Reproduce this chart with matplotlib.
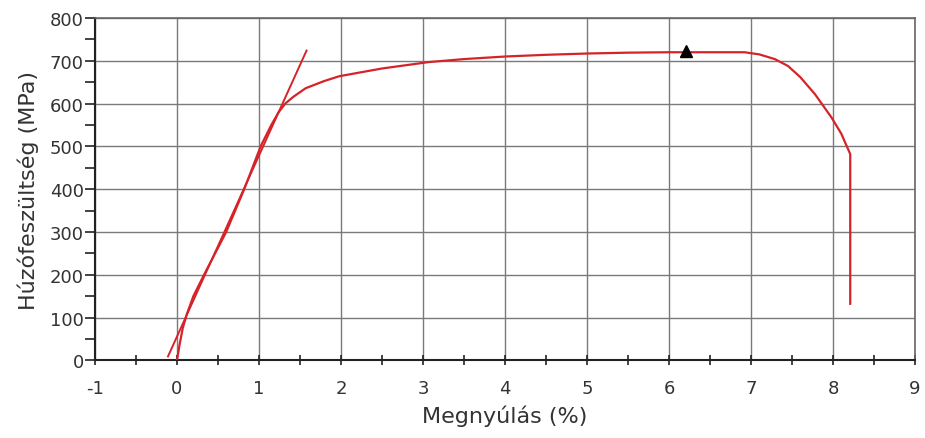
import matplotlib
matplotlib.use("Agg")
from matplotlib import pyplot as plt
from matplotlib.ticker import MultipleLocator

plt.rcParams["axes.unicode_minus"] = False

# Stress-strain curve (strain %, stress MPa)
strain = [0.0, 0.03, 0.07, 0.12, 0.2, 0.33, 0.6, 0.82, 1.02, 1.15, 1.24, 1.32,
          1.42, 1.57, 1.8, 1.98, 2.5, 3.07, 3.5, 4.0, 4.5, 5.0, 5.5, 6.0, 6.5,
          6.92, 7.1, 7.29, 7.45, 7.6, 7.78, 7.98, 8.1, 8.21, 8.21]
stress = [0, 35, 75, 108, 150, 200, 300, 400, 500, 550, 580, 600,
          616, 636, 653, 664, 682, 697, 704, 710, 714, 717, 719, 720, 720,
          720, 715, 704, 688, 662, 622, 568, 530, 482, 132]

# Elastic (tangent) line
tangent_x = [-0.11, 1.58]
tangent_y = [9, 724]

# Ultimate strength marker
peak_x = [6.21]
peak_y = [722]

fig = plt.figure(figsize=(9.25, 4.39), dpi=100)
ax = fig.add_axes([0.1027, 0.177, 0.8865, 0.7797])

ax.plot(tangent_x, tangent_y, color="#d42429", lw=1.4, zorder=3)
ax.plot(strain, stress, color="#d42429", lw=1.6, zorder=3)
ax.plot(peak_x, peak_y, marker="^", color="black", ms=8, ls="none", zorder=4)

ax.set_xlim(-1, 9)
ax.set_ylim(0, 800)
ax.xaxis.set_major_locator(MultipleLocator(1))
ax.xaxis.set_minor_locator(MultipleLocator(0.5))
ax.yaxis.set_major_locator(MultipleLocator(100))
ax.yaxis.set_minor_locator(MultipleLocator(50))
ax.tick_params(axis="x", which="both", direction="inout", length=7.5,
               width=1.2, color="#222222")
ax.tick_params(axis="x", which="major", labelsize=13, pad=10,
               labelcolor="#333333")
ax.tick_params(axis="y", which="both", direction="out", length=7,
               width=1.2, color="#222222")
ax.tick_params(axis="y", which="major", labelsize=13, pad=1,
               labelcolor="#333333")
ax.grid(True, which="major", color="#7a7a7a", lw=1.0)

for side in ("left", "bottom"):
    ax.spines[side].set_color("#222222")
    ax.spines[side].set_linewidth(1.5)
for side in ("top", "right"):
    ax.spines[side].set_color("#666666")
    ax.spines[side].set_linewidth(1.2)

ax.set_xlabel("Megnyúlás (%)", fontsize=16, labelpad=5, color="#333333")
ax.set_ylabel("Húzófeszültség (MPa)", fontsize=16, labelpad=8, color="#333333")

fig.savefig("out.png", dpi=100)
